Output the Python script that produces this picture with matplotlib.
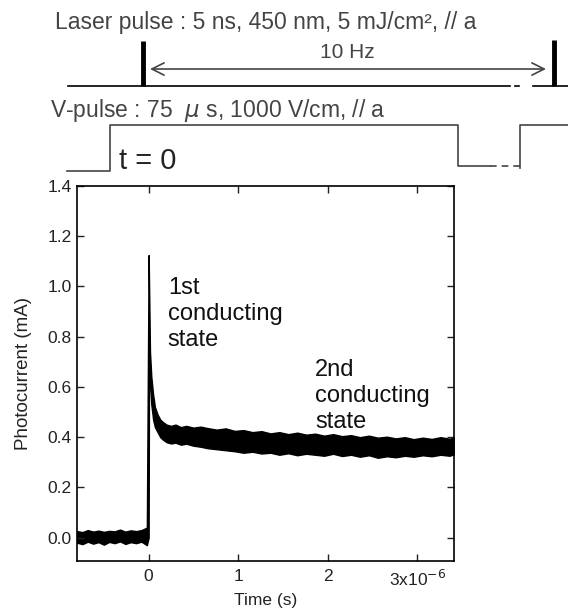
import matplotlib
matplotlib.use("Agg")
import matplotlib.pyplot as plt

plt.rcParams['font.family'] = ['Liberation Sans', 'DejaVu Sans']

# trace envelope (time in microseconds, current in mA)
t_us = [-0.80, -0.74, -0.68, -0.62, -0.56, -0.50, -0.44, -0.38, -0.32, -0.26,
        -0.20, -0.14, -0.08, -0.02, 0.0,
        0.005, 0.015, 0.03, 0.05, 0.07, 0.10, 0.13, 0.16, 0.20, 0.25,
        0.30, 0.36, 0.42, 0.50, 0.58, 0.66, 0.76, 0.86, 0.96, 1.06,
        1.16, 1.26, 1.36, 1.46, 1.56, 1.66, 1.76, 1.86, 1.96, 2.06,
        2.16, 2.26, 2.36, 2.46, 2.56, 2.66, 2.76, 2.86, 2.96, 3.06,
        3.16, 3.26, 3.36, 3.41]
upper = [0.026, 0.022, 0.030, 0.024, 0.028, 0.023, 0.027, 0.025, 0.032, 0.024,
         0.029, 0.026, 0.030, 0.040, 1.125,
         1.00, 0.74, 0.64, 0.57, 0.52, 0.49, 0.47, 0.46, 0.45, 0.445,
         0.450, 0.440, 0.445, 0.438, 0.442, 0.436, 0.430, 0.435, 0.425, 0.428,
         0.420, 0.424, 0.415, 0.420, 0.412, 0.418, 0.410, 0.414, 0.406, 0.412,
         0.404, 0.408, 0.400, 0.406, 0.398, 0.402, 0.395, 0.400, 0.392, 0.398,
         0.393, 0.400, 0.394, 0.398]
lower = [-0.020, -0.026, -0.016, -0.024, -0.018, -0.028, -0.017, -0.022, -0.015, -0.025,
         -0.018, -0.022, -0.016, -0.030, 0.0,
         0.80, 0.62, 0.53, 0.47, 0.44, 0.42, 0.40, 0.39, 0.380, 0.375,
         0.378, 0.370, 0.374, 0.366, 0.362, 0.356, 0.352, 0.348, 0.344, 0.338,
         0.342, 0.335, 0.338, 0.330, 0.336, 0.328, 0.334, 0.330, 0.326, 0.334,
         0.325, 0.330, 0.322, 0.328, 0.318, 0.324, 0.320, 0.326, 0.322, 0.328,
         0.324, 0.330, 0.326, 0.332]

xticks = [0, 1, 2, 3]
xtick_labels = ['0', '1', '2', '3x10$^{-6}$']
yticks = [0.0, 0.2, 0.4, 0.6, 0.8, 1.0, 1.2, 1.4]

W, H = 568, 616
fig = plt.figure(figsize=(W / 100, H / 100), dpi=100)

ax = fig.add_axes([77 / W, 1 - 561 / H, (454 - 77) / W, (561 - 186) / H])
ax.fill_between(t_us, lower, upper, color='black', lw=1.0, edgecolor='black')
ax.set_xlim(-0.80, 3.41)
ax.set_ylim(-0.093, 1.4)
ax.set_xticks(xticks)
ax.set_xticklabels(xtick_labels)
ax.set_yticks(yticks)
ax.set_yticklabels(['%.1f' % v for v in yticks])
ax.tick_params(direction='in', top=True, right=True, length=5, width=1,
               labelsize=12.5, colors='#222222', pad=4)
ax.tick_params(axis='x', pad=6)
for s in ax.spines.values():
    s.set_linewidth(1.2)
ax.set_xlabel('Time (s)', fontsize=12.5, color='#222222')
ax.set_ylabel('Photocurrent (mA)', fontsize=13.5, color='#222222')
ax.yaxis.set_label_coords(-0.12, 0.5)
ax.xaxis.set_label_coords(0.5, -0.085)

ax.text(0.241, 0.659, '1st\nconducting\nstate', transform=ax.transAxes,
        fontsize=17, linespacing=1.25, va='center', ha='left', color='#111111')
ax.text(0.631, 0.44, '2nd\nconducting\nstate', transform=ax.transAxes,
        fontsize=17, linespacing=1.25, va='center', ha='left', color='#111111')

# timing schematic above the plot, in pixel coordinates
sk = fig.add_axes([0, 0, 1, 1], zorder=-1)
sk.set_xlim(0, W)
sk.set_ylim(H, 0)
sk.axis('off')

gray = '#444444'
sk.text(55, 22, 'Laser pulse : 5 ns, 450 nm, 5 mJ/cm², // a', fontsize=16.5,
        color=gray, va='center', ha='left')
sk.plot([68, 510], [86, 86], color='black', lw=1.2)
sk.plot([515, 519], [86, 86], color='black', lw=1.2)
sk.plot([533, 568], [86, 86], color='black', lw=1.2)
sk.plot([143, 143], [41, 86], color='black', lw=3.5, solid_capstyle='butt')
sk.plot([554, 554], [40, 86], color='black', lw=3.5, solid_capstyle='butt')
sk.annotate('', xy=(150, 69), xytext=(546, 69),
            arrowprops=dict(arrowstyle='<->', color=gray, lw=1.2,
                            mutation_scale=22, shrinkA=0, shrinkB=0))
sk.text(347, 53, '10 Hz', fontsize=15, color=gray, va='center', ha='center')

sk.text(50, 110, 'V-pulse : 75  $\\mu$ s, 1000 V/cm, // a', fontsize=16.5,
        color=gray, va='center', ha='left')
sk.plot([67, 110, 110, 458, 458, 490], [171, 171, 125, 125, 166, 166],
        color=gray, lw=1.2)
sk.plot([490, 520], [166, 166], color=gray, lw=1.2, ls=(0, (4, 3)))
sk.plot([520, 520, 568], [168, 125, 125], color=gray, lw=1.2)
sk.text(119, 161, 't = 0', fontsize=21, color='#222222', va='center', ha='left')

fig.savefig('out.png', dpi=100)
